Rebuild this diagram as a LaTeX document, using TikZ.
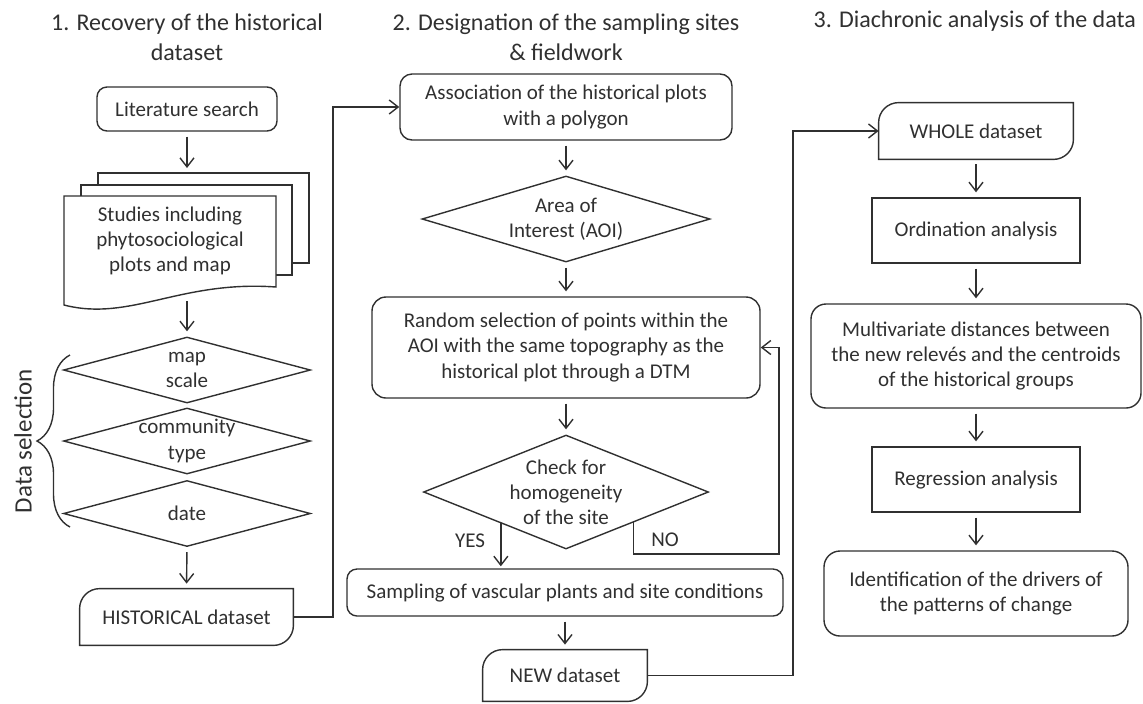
\documentclass[tikz,border=0pt]{standalone}
\usepackage{fontspec}
\setmainfont{Carlito}
\usepackage{tikz}
\usetikzlibrary{calc,positioning,shapes,arrows.meta,decorations.pathreplacing}
\definecolor{ink}{RGB}{48,48,48}

\begin{document}
\begin{tikzpicture}[x=0.5pt,y=-0.5pt,
    every node/.style={text=ink,font=\fontsize{10.5}{12.6}\selectfont,align=center},
    line/.style={draw=ink,line width=0.7pt},
    flow/.style={line,-{Straight Barb[length=4.5pt,width=7pt]}},
    gap/.style={shorten <=2.5pt,shorten >=2.5pt},
    proc/.style={line,rounded corners=5pt,inner sep=0pt},
    plain/.style={line,inner sep=0pt},
    decision/.style={line,diamond,inner sep=0pt},
    data/.style={inner sep=0pt},
    head/.style={font=\fontsize{12}{15}\selectfont}]
    \useasboundingbox (0,0) rectangle (1143,703);
    % titles
    \node[head] (h1) at (187,37) {1. Recovery of the historical\\dataset};
    \node[head] (h2) at (566,37) {2. Designation of the sampling sites\\\& fieldwork};
    \node[head,anchor=east] (h3) at (1143,21) {3. Diachronic analysis of the data};
    % 1. historical dataset
    \node[proc,minimum width=90pt,minimum height=22pt] (lit) at (187,109) {Literature search};
    \coordinate (stack) at (187,173);
    \draw[line] (98,185) -- (98,173) -- (309,173) -- (309,263) -- (292,263);
    \draw[line] (81,196) -- (81,185) -- (292,185) -- (292,275) -- (276,275);
    \draw[line,fill=white] (64,196) -- (276,196) -- (276,287) .. controls (180,280) and (130,322) .. (64,305) -- cycle;
    \node[data] (stud) at (170,241) {Studies including\\phytosociological\\plots and map};
    \coordinate (studbot) at (187,296);
    \node[decision,minimum width=123.5pt,minimum height=33pt] (scale) at (187,370) {};
    \node (scaletxt) at (scale) {map\\scale};
    \node[decision,minimum width=123.5pt,minimum height=33pt] (comm) at (187,441) {};
    \node (commtxt) at (comm) {community\\type};
    \node[decision,minimum width=123.5pt,minimum height=33pt] (date) at (187,513.5) {};
    \node (datetxt) at (date) {date};
    \draw[line,decorate,decoration={brace,amplitude=16.5pt}] (70,527) -- (70,355);
    \node[rotate=90,font=\fontsize{12.5}{15}\selectfont] (dsel) at (23,441) {Data selection};
    \node[data,minimum width=106.5pt,minimum height=28pt] (hist) at (186.5,617) {HISTORICAL dataset};
    \draw[flow,gap] (lit) -- (stack);
    \draw[flow,gap] (studbot) -- (scale.north);
    \draw[flow,gap] (date.south) -- (hist.north);
    % 2. sampling sites
    \node[proc,rounded corners=6pt,minimum width=166pt,minimum height=33pt] (assoc) at (566,107) {Association of the historical plots\\with a polygon};
    \node[decision,minimum width=144pt,minimum height=43pt] (aoi) at (566,219) {};
    \node (aoitxt) at (aoi) {Area of\\Interest (AOI)};
    \node[proc,rounded corners=7pt,minimum width=194pt,minimum height=50.5pt] (rand) at (566,347.5) {Random selection of points within the\\AOI with the same topography as the\\historical plot through a DTM};
    \node[decision,minimum width=142.5pt,minimum height=57pt] (check) at (566,492) {};
    \node (checktxt) at (check) {Check for\\homogeneity\\of the site};
    \node[proc,minimum width=218pt,minimum height=23.5pt] (samp) at (565,592.5) {Sampling of vascular plants and site conditions};
    \node[data,minimum width=82pt,minimum height=25.5pt] (newd) at (565,675.5) {NEW dataset};
    \coordinate (yes0) at ($(check.west)!0.545!(check.south)$);
    \coordinate (no0) at ($(check.east)!0.528!(check.south)$);
    \node (yes) at (470,541) {YES};
    \node (no) at (665,540) {NO};
    \draw[flow] (hist.east) -- (333,617) |- (assoc.west);
    \draw[flow,gap] (assoc) -- (aoi);
    \draw[flow,gap] (aoi) -- (rand);
    \draw[flow,gap] (rand) -- (check);
    \draw[flow,shorten >=1pt] (yes0) -- (yes0 |- samp.north);
    \draw[flow] (no0) |- (779,554) |- (rand.east);
    \draw[flow,gap] (samp) -- (newd);
    % 3. diachronic analysis
    \node[data,minimum width=97pt,minimum height=28pt] (whole) at (976,131) {WHOLE dataset};
    \node[plain,minimum width=104pt,minimum height=32.5pt] (ord) at (976,230.5) {Ordination analysis};
    \node[proc,rounded corners=7.5pt,minimum width=165pt,minimum height=52pt] (multi) at (976,356) {Multivariate distances between\\the new relev\'es and the centroids\\of the historical groups};
    \node[plain,minimum width=104pt,minimum height=32.5pt] (reg) at (976,479.5) {Regression analysis};
    \node[proc,rounded corners=8pt,minimum width=152pt,minimum height=42.5pt] (ident) at (976,593.5) {Identification of the drivers of\\the patterns of change};
    \draw[flow] (newd.east) -- (793,675.5) |- (whole.west);
    \draw[flow,gap] (whole) -- (ord);
    \draw[flow,gap] (ord) -- (multi);
    \draw[flow,gap] (multi) -- (reg);
    \draw[flow,gap] (reg) -- (ident);
    % dataset shapes
    \foreach \n in {hist,newd,whole}
      \draw[line] (\n.south west) -- ([yshift=-10pt]\n.north west) to[out=90,in=180] ([xshift=10pt]\n.north west)
        -- (\n.north east) -- ([yshift=10pt]\n.south east) to[out=-90,in=0] ([xshift=-10pt]\n.south east) -- cycle;
\end{tikzpicture}
\end{document}
